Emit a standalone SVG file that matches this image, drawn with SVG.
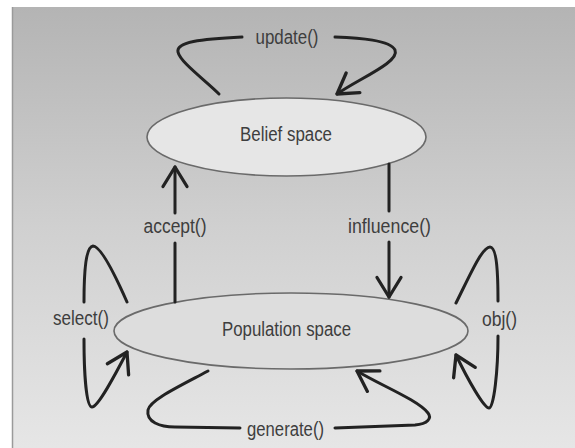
<svg xmlns="http://www.w3.org/2000/svg" width="575" height="448" viewBox="0 0 575 448">
  <defs>
    <linearGradient id="bg" x1="0" y1="0" x2="0" y2="1">
      <stop offset="0" stop-color="#b4b4b4"/>
      <stop offset="0.5" stop-color="#d0d0d0"/>
      <stop offset="1" stop-color="#e6e6e6"/>
    </linearGradient>
    <marker id="arr" markerUnits="userSpaceOnUse" markerWidth="30" markerHeight="30" viewBox="-16 -10 20 20" refX="0" refY="0" orient="auto">
      <path d="M-13,-8 L0,0 L-13,8" fill="none" stroke="#222" stroke-width="2.2" stroke-linecap="round" stroke-linejoin="round"/>
    </marker>
    <style>
      .lbl { font-family: "Liberation Sans", Arial, sans-serif; font-size: 19.5px; fill: #3e3e3e; text-anchor: middle; }
      .node { stroke: #6a6a6a; stroke-width: 1.6; }
      .conn { fill: none; stroke: #222; stroke-width: 3; stroke-linecap: round; }
    </style>
  </defs>
  <rect x="0" y="0" width="575" height="448" fill="#ffffff"/>
  <rect x="12" y="7" width="563" height="441" fill="url(#bg)"/>
  <line x1="12.5" y1="7" x2="12.5" y2="448" stroke="#9a9a9a" stroke-width="1.5"/>

  <g id="belief-space">
    <ellipse class="node" cx="286.5" cy="137" rx="139.5" ry="39" fill="#e6e6e6"/>
    <text class="lbl" x="286" y="141" textLength="92" lengthAdjust="spacingAndGlyphs">Belief space</text>
  </g>
  <g id="population-space">
    <ellipse class="node" cx="291" cy="331" rx="177" ry="38" fill="#dddddd"/>
    <text class="lbl" x="286.5" y="336" textLength="129" lengthAdjust="spacingAndGlyphs">Population space</text>
  </g>

  <g id="connectors">
    <!-- update() -->
    <path class="conn" d="M219,94 C205,80 180,62 178,52 C176,42 200,39 242,37"/>
    <path class="conn" d="M335,37 C360,38 390,40 395,50 C400,62 360,78 337,94" marker-end="url(#arr)"/>
    <!-- accept() -->
    <path class="conn" d="M175,213 L175,167" marker-end="url(#arr)"/>
    <path class="conn" d="M175,243 L175,302"/>
    <!-- influence() -->
    <path class="conn" d="M389,164 L389,211"/>
    <path class="conn" d="M389,242 L389,297" marker-end="url(#arr)"/>
    <!-- select() -->
    <path class="conn" d="M84,302 C84,270 86,247 93,246 C100,246 112,268 127,302"/>
    <path class="conn" d="M84,339 C84,370 86,407 92,407 C98,407 115,375 127,352" marker-end="url(#arr)"/>
    <!-- obj() -->
    <path class="conn" d="M456,303 C470,275 482,247 490,247 C497,247 498,275 498,301"/>
    <path class="conn" d="M498,336 C498,370 494,408 489,408 C484,408 468,380 456,355" marker-end="url(#arr)"/>
    <!-- generate() -->
    <path class="conn" d="M208,371 C180,386 150,400 148,410 C146,422 160,427 175,427 L240,428"/>
    <path class="conn" d="M335,428 L415,425 C428,424 432,418 428,413 C418,400 380,385 357,371" marker-end="url(#arr)"/>
  </g>

  <g id="labels">
    <text class="lbl" x="287" y="44" textLength="63" lengthAdjust="spacingAndGlyphs">update()</text>
    <text class="lbl" x="175" y="233" textLength="63" lengthAdjust="spacingAndGlyphs">accept()</text>
    <text class="lbl" x="389.5" y="233" textLength="83" lengthAdjust="spacingAndGlyphs">influence()</text>
    <text class="lbl" x="81" y="325" textLength="56" lengthAdjust="spacingAndGlyphs">select()</text>
    <text class="lbl" x="499.5" y="326" textLength="35" lengthAdjust="spacingAndGlyphs">obj()</text>
    <text class="lbl" x="285.5" y="436" textLength="77" lengthAdjust="spacingAndGlyphs">generate()</text>
  </g>
</svg>
